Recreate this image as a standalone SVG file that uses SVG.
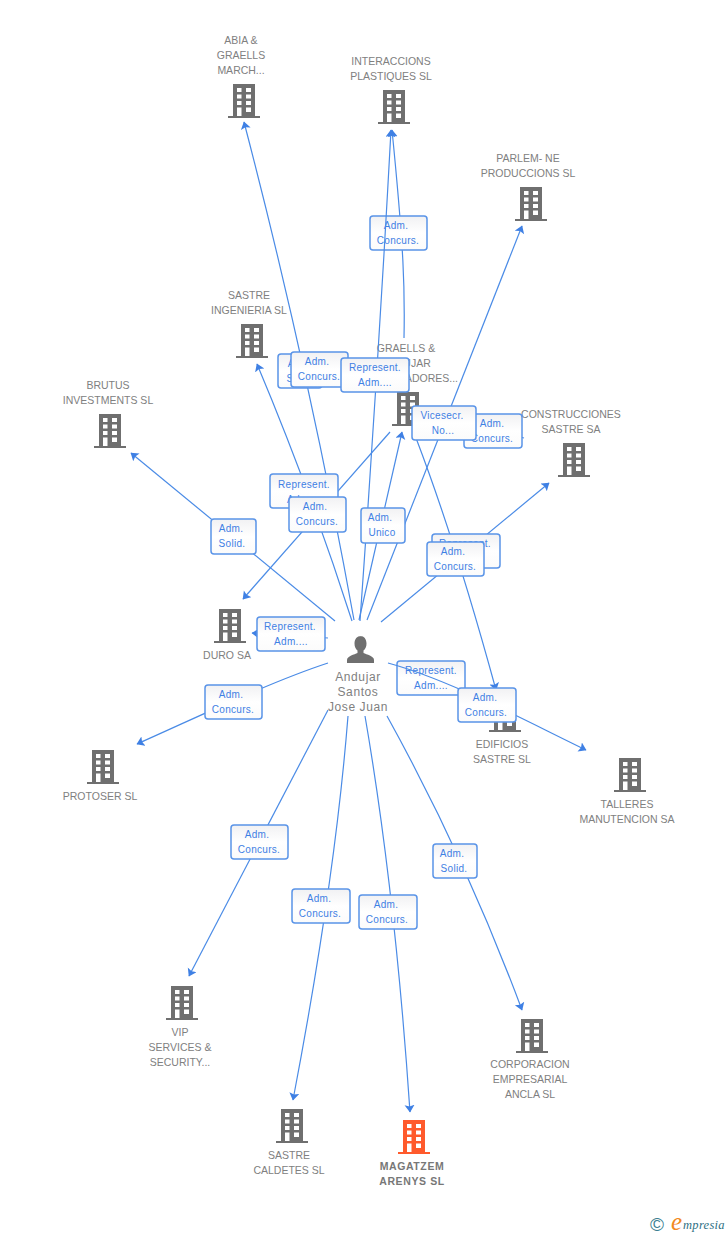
<svg xmlns="http://www.w3.org/2000/svg" width="728" height="1235" viewBox="0 0 728 1235">
<style>
.n{font:10.5px "Liberation Sans",Arial,sans-serif;fill:#808080;text-anchor:middle}
.b{font-weight:bold;letter-spacing:.6px;fill:#777}
.p{font-size:12px;letter-spacing:.6px}
.l{font:10px "Liberation Sans",Arial,sans-serif;fill:#3f80e4;text-anchor:middle;letter-spacing:.3px}
.c{fill:none;stroke:#4a8be6;stroke-width:1.2}
.a{marker-end:url(#h)}
.r{fill:url(#g);stroke:#5a94e8;stroke-width:1.5}
.gy{fill:#6f6f6f}
.or{fill:#ff5a2c}
</style>
<defs>
<linearGradient id="g" x1="0" y1="0" x2="0" y2="1"><stop offset="0" stop-color="#f1f1f3"/><stop offset=".5" stop-color="#fff"/><stop offset="1" stop-color="#fbfbfb"/></linearGradient>
<marker id="h" markerUnits="userSpaceOnUse" markerWidth="12" markerHeight="12" refX="7" refY="5" orient="auto"><path d="M0 0L7.500 5L0 10L1.500 5Z" fill="#3f80e4"/></marker>
<g id="bld"><rect x="5" y="0" width="22" height="32"/><rect x="0" y="32" width="32" height="2"/>
<path fill="#fff" d="M9 4h4.500v4H9zM18 4h5v4h-5zM9 10.500h4.500v4H9zM18 10.500h5v4h-5zM9 17h4.500v4H9zM18 17h5v4h-5zM9 23.500h4.500V32H9zM18 23.500h5v4.500h-5z"/></g>
</defs>
<g id="node-abia"><use href="#bld" x="228" y="84" class="gy"/><text class="n"><tspan x="241" y="44">ABIA &amp;</tspan><tspan x="241" y="59">GRAELLS</tspan><tspan x="241" y="74">MARCH...</tspan></text></g>
<g id="node-interaccions"><use href="#bld" x="378" y="90" class="gy"/><text class="n"><tspan x="391" y="65">INTERACCIONS</tspan><tspan x="391" y="80">PLASTIQUES SL</tspan></text></g>
<g id="node-parlem"><use href="#bld" x="515" y="187" class="gy"/><text class="n"><tspan x="528" y="162">PARLEM- NE</tspan><tspan x="528" y="177">PRODUCCIONS SL</tspan></text></g>
<g id="node-sastre-ing"><use href="#bld" x="236" y="324" class="gy"/><text class="n"><tspan x="249" y="299">SASTRE</tspan><tspan x="249" y="314">INGENIERIA SL</tspan></text></g>
<g id="node-brutus"><use href="#bld" x="94" y="414" class="gy"/><text class="n"><tspan x="108" y="389">BRUTUS</tspan><tspan x="108" y="404">INVESTMENTS SL</tspan></text></g>
<g id="node-graells"><use href="#bld" x="392" y="392" class="gy"/><text class="n"><tspan x="406" y="352">GRAELLS &amp;</tspan><tspan x="406" y="367">ANDUJAR</tspan><tspan x="458" y="382" text-anchor="end">ADORES...</tspan></text></g>
<g id="node-construcciones"><use href="#bld" x="558" y="443" class="gy"/><text class="n"><tspan x="571" y="418">CONSTRUCCIONES</tspan><tspan x="571" y="433">SASTRE SA</tspan></text></g>
<g id="node-duro"><use href="#bld" x="214" y="609" class="gy"/><text class="n"><tspan x="227" y="659">DURO SA</tspan></text></g>
<g id="node-protoser"><use href="#bld" x="87" y="750" class="gy"/><text class="n"><tspan x="100" y="800">PROTOSER SL</tspan></text></g>
<g id="node-edificios"><use href="#bld" x="489" y="698" class="gy"/><text class="n"><tspan x="502" y="748">EDIFICIOS</tspan><tspan x="502" y="763">SASTRE SL</tspan></text></g>
<g id="node-talleres"><use href="#bld" x="614" y="758" class="gy"/><text class="n"><tspan x="627" y="808">TALLERES</tspan><tspan x="627" y="823">MANUTENCION SA</tspan></text></g>
<g id="node-vip"><use href="#bld" x="166" y="986" class="gy"/><text class="n"><tspan x="180" y="1036">VIP</tspan><tspan x="180" y="1051">SERVICES &amp;</tspan><tspan x="180" y="1066">SECURITY...</tspan></text></g>
<g id="node-corporacion"><use href="#bld" x="516" y="1019" class="gy"/><text class="n"><tspan x="530" y="1068">CORPORACION</tspan><tspan x="530" y="1083">EMPRESARIAL</tspan><tspan x="530" y="1098">ANCLA SL</tspan></text></g>
<g id="node-caldetes"><use href="#bld" x="276" y="1109" class="gy"/><text class="n"><tspan x="289" y="1159">SASTRE</tspan><tspan x="289" y="1174">CALDETES SL</tspan></text></g>
<g id="node-magatzem"><use href="#bld" x="398" y="1120" class="or"/><text class="n b"><tspan x="412" y="1170">MAGATZEM</tspan><tspan x="412" y="1185">ARENYS SL</tspan></text></g>
<g id="node-andujar"><path class="gy" d="M361 636c-4 0-6.500 3-6.500 7.500 0 3 1 5.500 3 7v2.500c-3 1.500-10.500 3-10.500 7v3h27v-3c0-4-7.500-5.500-10.500-7v-2.500c2-1.500 3-4 3-7 0-4.500-2.500-7.500-6-7.500z"/><text class="n p"><tspan x="358" y="681">Andujar</tspan><tspan x="358" y="696">Santos</tspan><tspan x="358" y="711">Jose Juan</tspan></text></g>
<g id="connectors">
<path class="c a" d="M354 620Q309 371 244 122"/>
<path class="c a" d="M404 338C405 290 404 250 392 130"/>
<path class="c a" d="M367 620L522 226"/>
<path class="c a" d="M352 621Q310 490 257 364"/>
<path class="c a" d="M335 621L131 453"/>
<path class="c a" d="M390 432L243 599"/>
<path class="c a" d="M359 620L402 432"/>
<path class="c a" d="M416 438Q455 540 496 690"/>
<path class="c a" d="M381 622L549 483"/>
<path class="c a" d="M328 638L252 633"/>
<path class="c a" d="M328 663C270 682 200 716 137 744"/>
<path class="c a" d="M328 710L189 976"/>
<path class="c a" d="M348 716Q335 880 293 1100"/>
<path class="c a" d="M365 716Q395 890 410 1112"/>
<path class="c a" d="M387 716Q465 857 522 1010"/>
<path class="c" d="M520 437L524 438"/>
</g>
<g id="labels-lower">
<g><rect class="r" x="370" y="216" width="57" height="34" rx="3"/><text class="l"><tspan x="396" y="229">Adm.</tspan><tspan x="398" y="244">Concurs.</tspan></text></g>
<g><rect class="r" x="397" y="661" width="68" height="34" rx="3"/><text class="l"><tspan x="431" y="674">Represent.</tspan><tspan x="431" y="689">Adm....</tspan></text></g>
</g>
<g id="connectors-upper">
<path class="c a" d="M360 621Q378 370 391 130"/>
<path class="c a" d="M388 663C450 680 520 718 586 750"/>
</g>
<g id="labels">
<g><rect class="r" x="278" y="354" width="44" height="34" rx="3"/><text class="l"><tspan x="300" y="367">Adm.</tspan><tspan x="300" y="382">Solid.</tspan></text></g>
<g><rect class="r" x="291" y="352" width="57" height="35" rx="3"/><text class="l"><tspan x="317" y="365">Adm.</tspan><tspan x="319" y="380">Concurs.</tspan></text></g>
<g><rect class="r" x="341" y="358" width="68" height="34" rx="3"/><text class="l"><tspan x="375" y="371">Represent.</tspan><tspan x="375" y="386">Adm....</tspan></text></g>
<g><rect class="r" x="464" y="414" width="58" height="34" rx="3"/><text class="l"><tspan x="492" y="427">Adm.</tspan><tspan x="492" y="442">Concurs.</tspan></text></g>
<g><rect class="r" x="412" y="406" width="64" height="34" rx="3"/><text class="l"><tspan x="442" y="419">Vicesecr.</tspan><tspan x="443" y="434">No...</tspan></text></g>
<g><rect class="r" x="270" y="474" width="68" height="34" rx="3"/><text class="l"><tspan x="304" y="488">Represent.</tspan><tspan x="304" y="503">Adm....</tspan></text></g>
<g><rect class="r" x="289" y="497" width="57" height="35" rx="3"/><text class="l"><tspan x="315" y="510">Adm.</tspan><tspan x="317" y="525">Concurs.</tspan></text></g>
<g><rect class="r" x="361" y="508" width="44" height="35" rx="3"/><text class="l"><tspan x="380" y="521">Adm.</tspan><tspan x="382" y="536">Unico</tspan></text></g>
<g><rect class="r" x="211" y="519" width="45" height="35" rx="3"/><text class="l"><tspan x="231" y="532">Adm.</tspan><tspan x="232" y="547">Solid.</tspan></text></g>
<g><rect class="r" x="432" y="534" width="68" height="34" rx="3"/><text class="l"><tspan x="465" y="547">Represent.</tspan><tspan x="465" y="562">Adm....</tspan></text></g>
<g><rect class="r" x="427" y="542" width="57" height="34" rx="3"/><text class="l"><tspan x="453" y="555">Adm.</tspan><tspan x="455" y="570">Concurs.</tspan></text></g>
<g><rect class="r" x="257" y="617" width="68" height="34" rx="3"/><text class="l"><tspan x="290" y="630">Represent.</tspan><tspan x="291" y="645">Adm....</tspan></text></g>
<g><rect class="r" x="205" y="685" width="57" height="34" rx="3"/><text class="l"><tspan x="231" y="698">Adm.</tspan><tspan x="233" y="713">Concurs.</tspan></text></g>
<g><rect class="r" x="458" y="688" width="58" height="34" rx="3"/><text class="l"><tspan x="485" y="701">Adm.</tspan><tspan x="486" y="716">Concurs.</tspan></text></g>
<g><rect class="r" x="231" y="825" width="57" height="34" rx="3"/><text class="l"><tspan x="257" y="838">Adm.</tspan><tspan x="259" y="853">Concurs.</tspan></text></g>
<g><rect class="r" x="433" y="844" width="44" height="34" rx="3"/><text class="l"><tspan x="452" y="857">Adm.</tspan><tspan x="454" y="872">Solid.</tspan></text></g>
<g><rect class="r" x="292" y="889" width="58" height="34" rx="3"/><text class="l"><tspan x="319" y="902">Adm.</tspan><tspan x="320" y="917">Concurs.</tspan></text></g>
<g><rect class="r" x="359" y="895" width="58" height="34" rx="3"/><text class="l"><tspan x="386" y="908">Adm.</tspan><tspan x="387" y="923">Concurs.</tspan></text></g>
</g>
<g id="logo"><text x="650" y="1231" font-family="'Liberation Sans',sans-serif" font-size="19" fill="#3b7f92">©</text><text x="671" y="1230" font-family="'Liberation Serif',serif" font-style="italic" font-size="25" fill="#f28a1e">e</text><text x="683" y="1229" font-family="'Liberation Serif',serif" font-style="italic" font-size="12.500" letter-spacing=".3" fill="#2e6f83">mpresia</text></g>
</svg>
